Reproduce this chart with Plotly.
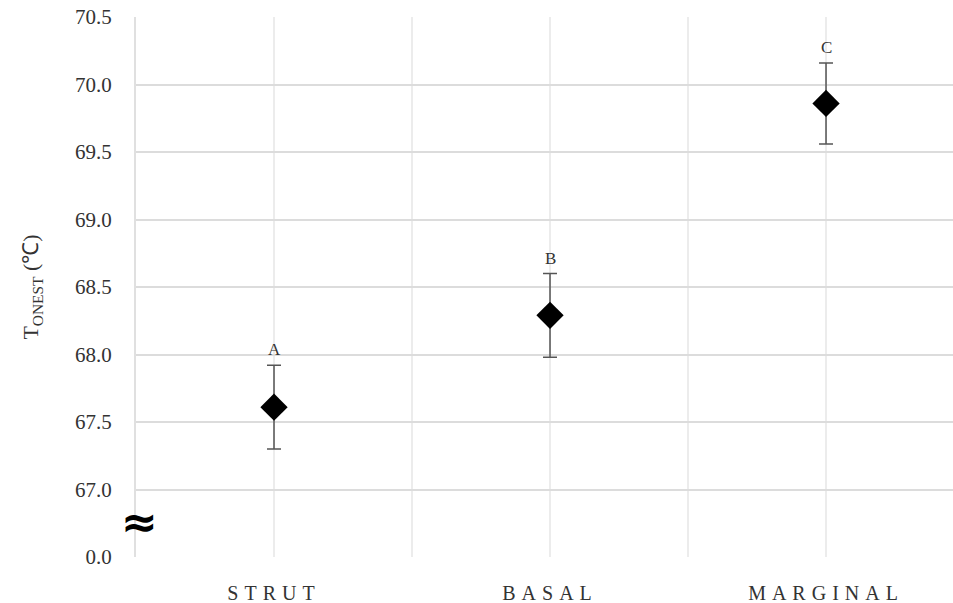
import plotly.graph_objects as go

categories = ["STRUT", "BASAL", "MARGINAL"]
means = [67.61, 68.29, 69.86]
errors = [0.31, 0.31, 0.30]
letters = ["A", "B", "C"]
ytick_vals = [66.5, 67.0, 67.5, 68.0, 68.5, 69.0, 69.5, 70.0, 70.5]
ytick_text = ["0.0", "67.0", "67.5", "68.0", "68.5", "69.0", "69.5", "70.0", "70.5"]

xpos = list(range(len(categories)))
serif = "Liberation Serif"

fig = go.Figure()
fig.add_trace(go.Scatter(
    x=xpos, y=means, mode="markers",
    marker=dict(symbol="diamond", size=21, color="black"),
    error_y=dict(type="data", array=errors, visible=True, color="#555555",
                 thickness=1.5, width=7),
    showlegend=False,
))

for x, m, e, lab in zip(xpos, means, errors, letters):
    fig.add_annotation(x=x, y=m + e, text=lab, showarrow=False,
                       yanchor="bottom", yshift=4,
                       font=dict(family=serif, size=17, color="#333333"))

# axis break symbol
fig.add_annotation(xref="paper", x=0, y=66.76, text="<b>≈</b>", showarrow=False,
                   xanchor="center", yanchor="middle", xshift=3,
                   font=dict(family="DejaVu Sans", size=44, color="black"))

xt_text = [f'<span style="letter-spacing:6px">{c}</span>' for c in categories]

fig.update_layout(
    width=953, height=603,
    margin=dict(l=136, r=0, t=17, b=46),
    paper_bgcolor="white", plot_bgcolor="white",
    xaxis=dict(
        range=[-0.5, 2.46], tickmode="array", tickvals=xpos, ticktext=xt_text,
        showgrid=True, gridcolor="#ececec", gridwidth=1.5, zeroline=False,
        minor=dict(tickmode="array", tickvals=[-0.5, 0.5, 1.5], showgrid=True,
                   gridcolor="#ececec", gridwidth=1.5, ticks=""),
        showline=False, ticks="", ticklabelstandoff=22,
        tickfont=dict(family=serif, size=20, color="#333333"),
    ),
    yaxis=dict(
        range=[66.5, 70.5], tickmode="array", tickvals=ytick_vals, ticktext=ytick_text,
        showgrid=True, gridcolor="#dcdcdc", gridwidth=2, zeroline=False,
        showline=True, linecolor="#e0e0e0", linewidth=2,
        ticks="", ticklabelstandoff=18,
        tickfont=dict(family=serif, size=21, color="#333333"),
        title=dict(text="T<sub>ONEST</sub> (℃)", standoff=30,
                   font=dict(family=serif, size=22, color="#333333")),
    ),
)

fig.write_html("out.html")
